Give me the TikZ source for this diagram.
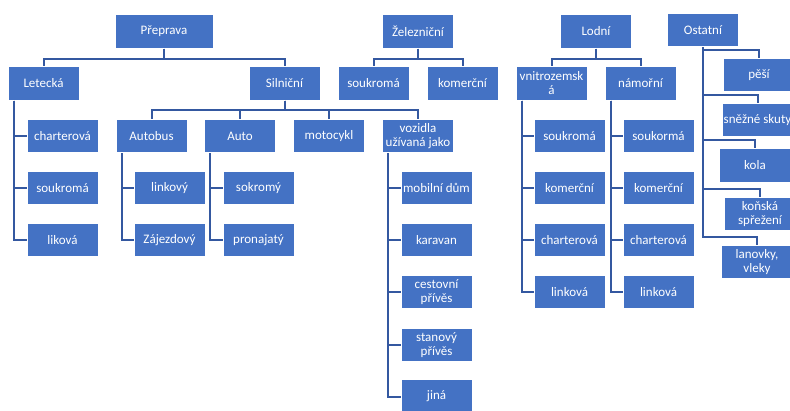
\documentclass[tikz,border=0pt]{standalone}
\usepackage{fontspec}
\setmainfont{Carlito}
\definecolor{boxblue}{HTML}{4472C4}
\definecolor{linec}{RGB}{52,88,160}
\begin{document}
\begin{tikzpicture}[x=1pt,y=-1pt,
  bx/.style={draw=white, line width=0.6pt, fill=boxblue, text=white,
    minimum width=71pt, minimum height=33.5pt, inner sep=1pt, align=center,
    font=\fontsize{13}{14}\selectfont},
  conn/.style={draw=linec, line width=2pt}]
\useasboundingbox (0,0) rectangle (790,410);
% top level
\node[bx, minimum width=98pt] (P) at (164,31.5) {Přeprava};
\node[bx] (Z) at (418,31.5) {Železniční};
\node[bx] (Lo) at (596,31.5) {Lodní};
\node[bx] (O) at (703,30) {Ostatní};
% second level
\node[bx] (Le) at (43.5,83.5) {Letecká};
\node[bx] (Si) at (284.5,83.5) {Silniční};
\node[bx] (Zs) at (373.5,83.5) {soukromá};
\node[bx] (Zk) at (462.5,83.5) {komerční};
\node[bx] (Vn) at (551.5,83.5) {vnitrozemsk\\á};
\node[bx] (Na) at (640.5,83.5) {námořní};
% Letecka children
\node[bx] (Le1) at (62.5,136) {charterová};
\node[bx] (Le2) at (62.5,188) {soukromá};
\node[bx] (Le3) at (62.5,240) {liková};
% Silnicni children
\node[bx] (Ab) at (151.5,136) {Autobus};
\node[bx] (Au) at (240,136) {Auto};
\node[bx] (Mo) at (329,136) {motocykl};
\node[bx] (Vo) at (418,136) {vozidla\\užívaná jako};
\node[bx] (Ab1) at (169.5,188) {linkový};
\node[bx] (Ab2) at (169.5,240) {Zájezdový};
\node[bx] (Au1) at (258.5,188) {sokromý};
\node[bx] (Au2) at (258.5,240) {pronajatý};
\node[bx] (Vo1) at (436.5,188) {mobilní dům};
\node[bx] (Vo2) at (436.5,240) {karavan};
\node[bx] (Vo3) at (436.5,292) {cestovní\\přívěs};
\node[bx] (Vo4) at (436.5,345) {stanový\\přívěs};
\node[bx] (Vo5) at (436.5,396.5) {jiná};
% Lodni children
\node[bx] (Vn1) at (569.5,136) {soukromá};
\node[bx] (Vn2) at (569.5,188) {komerční};
\node[bx] (Vn3) at (569.5,240) {charterová};
\node[bx] (Vn4) at (569.5,292) {linková};
\node[bx] (Na1) at (658.5,136) {soukormá};
\node[bx] (Na2) at (658.5,188) {komerční};
\node[bx] (Na3) at (658.5,240) {charterová};
\node[bx] (Na4) at (658.5,292) {linková};
% Ostatni children
\node[bx] (O1) at (759,75) {pěší};
\node[bx] (O2) at (757.5,120) {\makebox[66pt]{sněžné skuty}};
\node[bx] (O3) at (755,165.5) {kola};
\node[bx] (O4) at (760,214) {koňská\\spřežení};
\node[bx] (O5) at (757,262) {lanovky,\\vleky};
% bus connectors
\foreach \pa/\ch in {P/Le,P/Si,Z/Zs,Z/Zk,Lo/Vn,Lo/Na}
  \draw[conn] (\pa.south) -- ([yshift=-10pt]\pa.south) -| (\ch.north);
\foreach \ch in {Ab,Au,Mo,Vo}
  \draw[conn] (Si.south) -- ([yshift=-9pt]Si.south) -| (\ch.north);
% side connectors
\foreach \pa/\ch in {Le/Le1,Le/Le2,Le/Le3,Ab/Ab1,Ab/Ab2,Au/Au1,Au/Au2,
  Vo/Vo1,Vo/Vo2,Vo/Vo3,Vo/Vo4,Vo/Vo5,Vn/Vn1,Vn/Vn2,Vn/Vn3,Vn/Vn4,
  Na/Na1,Na/Na2,Na/Na3,Na/Na4}
  \draw[conn] ([xshift=6pt]\pa.south west) |- (\ch.west);
% Ostatni connectors
\foreach \ch in {O1,O2,O3,O4,O5}
  \draw[conn] (O.south) |- ([yshift=8pt]\ch.north) -- (\ch.north);
\end{tikzpicture}
\end{document}
